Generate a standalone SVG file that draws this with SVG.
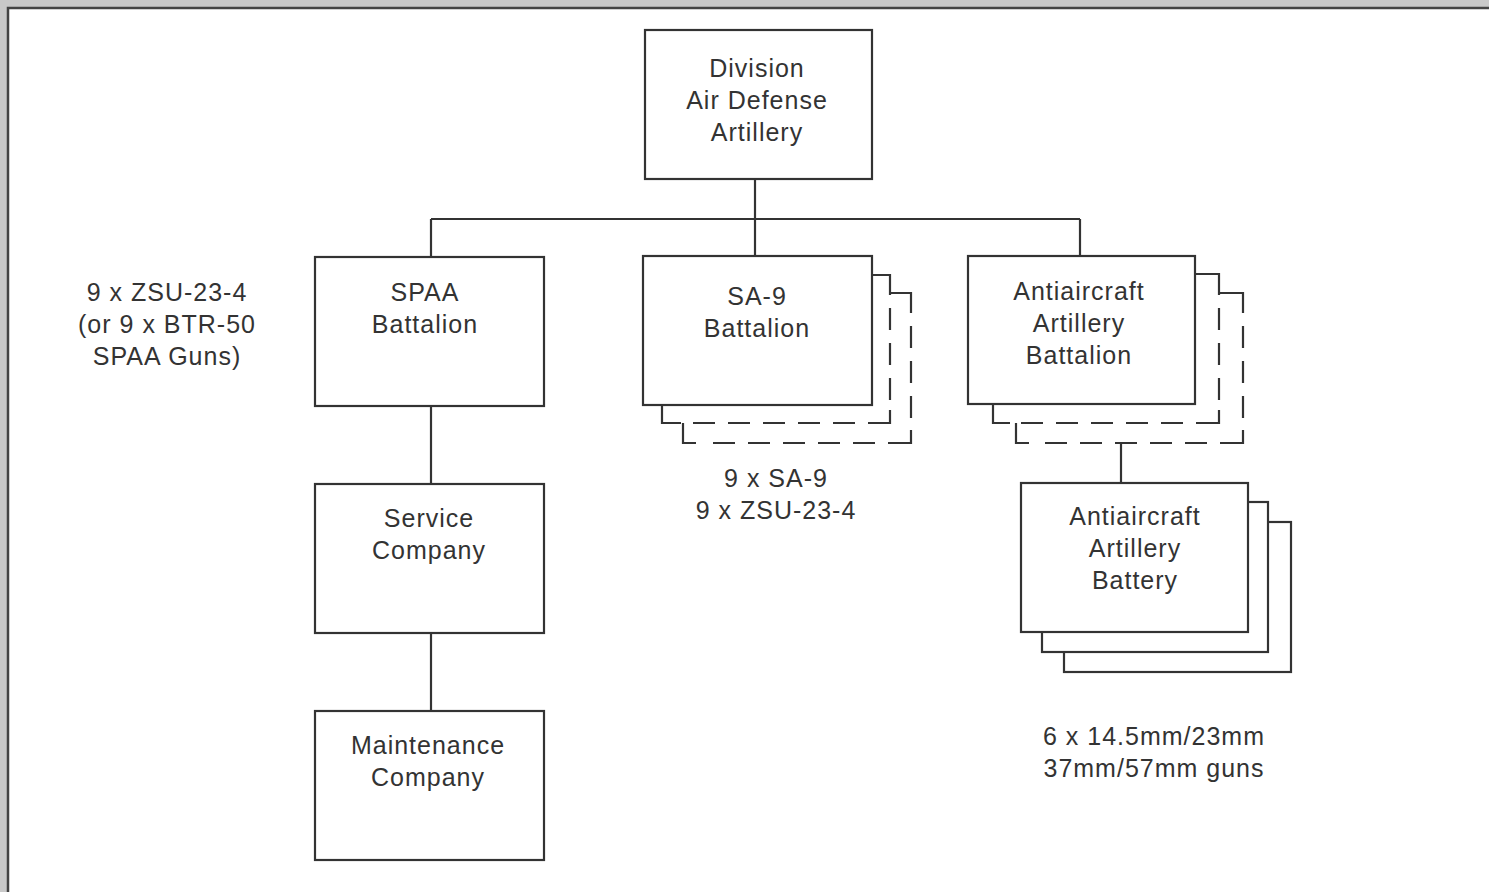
<svg xmlns="http://www.w3.org/2000/svg" width="1489" height="892" viewBox="0 0 1489 892">
<style>
.box{fill:#fff;stroke:#333;stroke-width:2.2}
.ln{fill:none;stroke:#333;stroke-width:2.2}
.dash{fill:none;stroke:#333;stroke-width:2.2;stroke-dasharray:22 13}
text{font-family:"Liberation Sans",Arial,sans-serif;font-size:25px;fill:#333;text-anchor:middle;letter-spacing:1px}
</style>
<rect x="0" y="0" width="1489" height="892" fill="#c9c9c9"/>
<rect x="8" y="8" width="1481" height="884" fill="#fff"/>
<path d="M8,892 V8 H1489" fill="none" stroke="#444" stroke-width="2.5"/>
<g id="connectors">
<path class="ln" d="M755,179 V256"/>
<path class="ln" d="M431,219 H1080"/>
<path class="ln" d="M431,219 V257"/>
<path class="ln" d="M1080,219 V256"/>
<path class="ln" d="M431,406 V484"/>
<path class="ln" d="M431,633 V711"/>
<path class="ln" d="M1121,443 V483"/>
</g>
<g id="division">
<rect class="box" x="645" y="30" width="227" height="149"/>
<text x="757" y="77">Division</text>
<text x="757" y="109">Air Defense</text>
<text x="757" y="141">Artillery</text>
</g>
<g id="spaa-note">
<text x="167" y="301">9 x ZSU-23-4</text>
<text x="167" y="333">(or 9 x BTR-50</text>
<text x="167" y="365">SPAA Guns)</text>
</g>
<g id="spaa">
<rect class="box" x="315" y="257" width="229" height="149"/>
<text x="425" y="301">SPAA</text>
<text x="425" y="333">Battalion</text>
</g>
<g id="service">
<rect class="box" x="315" y="484" width="229" height="149"/>
<text x="429" y="527">Service</text>
<text x="429" y="559">Company</text>
</g>
<g id="maintenance">
<rect class="box" x="315" y="711" width="229" height="149"/>
<text x="428" y="754">Maintenance</text>
<text x="428" y="786">Company</text>
</g>
<g id="sa9">
<path class="ln" d="M890,293 H911 V313"/>
<path class="dash" d="M911,326 V430"/>
<path class="ln" d="M911,430 V443 H888"/>
<path class="dash" d="M875,443 H705"/>
<path class="ln" d="M696,443 H683 V423"/>
<path class="ln" d="M872,275 H890 V295"/>
<path class="dash" d="M890,308 V410"/>
<path class="ln" d="M890,410 V423 H868"/>
<path class="dash" d="M855,423 H690"/>
<path class="ln" d="M681,423 H662 V405"/>
<rect class="box" x="643" y="256" width="229" height="149"/>
<text x="757" y="305">SA-9</text>
<text x="757" y="337">Battalion</text>
<text x="776" y="487">9 x SA-9</text>
<text x="776" y="519">9 x ZSU-23-4</text>
</g>
<g id="aaa-battalion">
<path class="ln" d="M1219,293 H1243 V313"/>
<path class="dash" d="M1243,326 V430"/>
<path class="ln" d="M1243,430 V443 H1220"/>
<path class="dash" d="M1207,443 H1038"/>
<path class="ln" d="M1029,443 H1016 V423"/>
<path class="ln" d="M1195,274 H1219 V295"/>
<path class="dash" d="M1219,308 V410"/>
<path class="ln" d="M1219,410 V423 H1196"/>
<path class="dash" d="M1183,423 H1018"/>
<path class="ln" d="M1010,423 H993 V404"/>
<rect class="box" x="968" y="256" width="227" height="148"/>
<text x="1079" y="300">Antiaircraft</text>
<text x="1079" y="332">Artillery</text>
<text x="1079" y="364">Battalion</text>
</g>
<g id="aaa-battery">
<rect class="box" x="1064" y="522" width="227" height="150"/>
<rect class="box" x="1042" y="502" width="226" height="150"/>
<rect class="box" x="1021" y="483" width="227" height="149"/>
<text x="1135" y="525">Antiaircraft</text>
<text x="1135" y="557">Artillery</text>
<text x="1135" y="589">Battery</text>
<text x="1154" y="745">6 x 14.5mm/23mm</text>
<text x="1154" y="777">37mm/57mm guns</text>
</g>
</svg>
